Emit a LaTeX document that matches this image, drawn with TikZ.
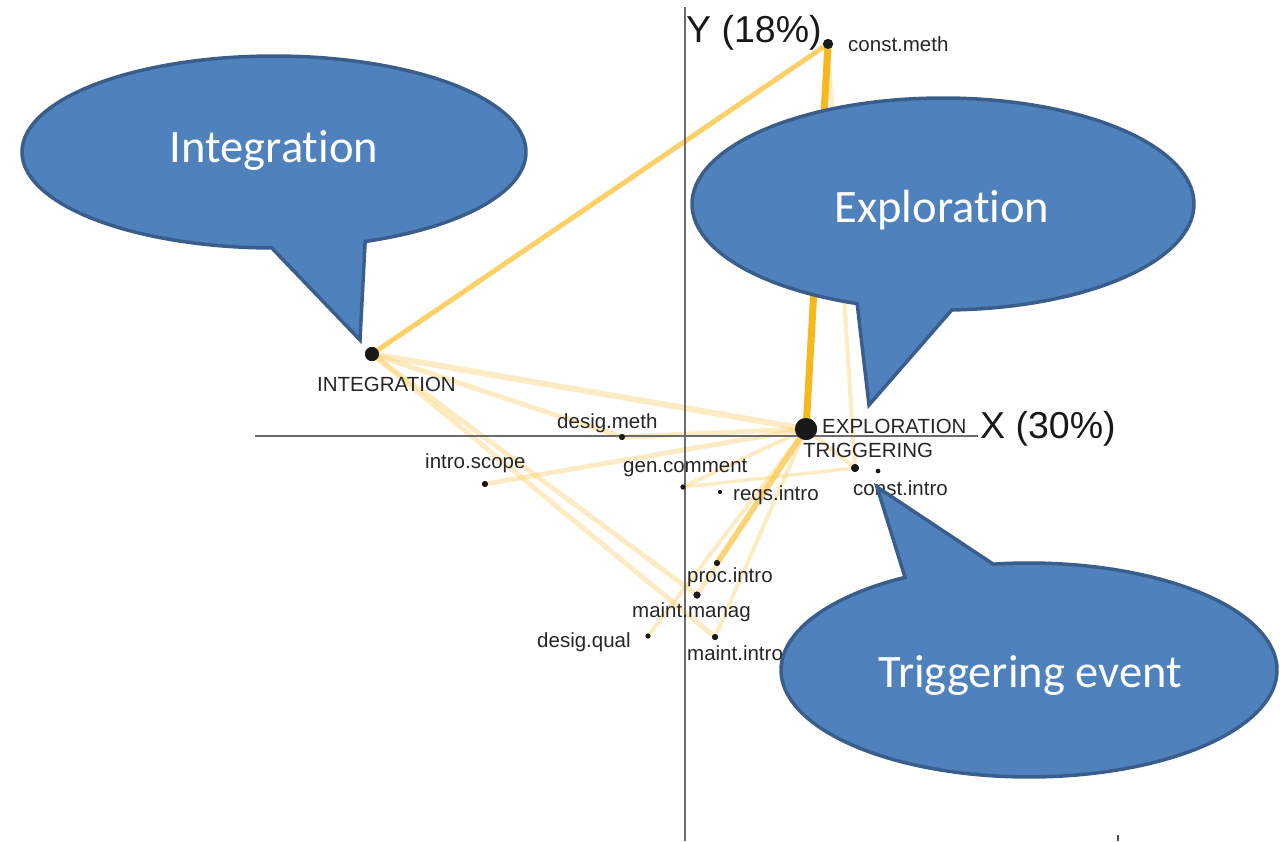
\documentclass[tikz,border=0pt]{standalone}
\usepackage{fontspec}
\setmainfont{Liberation Sans}
\newfontfamily\calibri[Ligatures=NoCommon]{Carlito}
\begin{document}
\begin{tikzpicture}[x=1pt,y=-1pt,
  dot/.style={circle,fill=black!90,inner sep=0pt,minimum size=#1},
  lbl/.style={anchor=base west,inner sep=0pt,text=black!85,font=\fontsize{20.5}{24}\selectfont},
  axlbl/.style={anchor=base west,inner sep=0pt,text=black!90,font=\fontsize{37.5}{44}\selectfont},
  axis/.style={draw=black!58,line width=2.2pt},
  bubtext/.style={anchor=base,inner sep=0pt,text=white,font=\calibri\fontsize{46.5}{56}\selectfont}
]
\definecolor{bubfill}{HTML}{4F81BD}
\definecolor{bubline}{HTML}{3A5E8C}
\definecolor{strongline}{HTML}{F8B71C}
\definecolor{midline}{HTML}{FDD168}
\definecolor{softline}{HTML}{FAC548}
\tikzset{
  heavy/.style={draw=strongline,line width=7pt,line cap=round},
  medium/.style={draw=midline,line width=5pt,line cap=round},
  faint/.style={draw=softline,line width=#1,opacity=0.33,line cap=round},
  faint/.default=5pt,
  callout/.style={fill=bubfill,draw=bubline,line width=3.5pt,line join=miter}
}
\useasboundingbox (0,0) rectangle (1280,841);

% points of the plot
\node[dot=10pt] (cmeth)  at (828,44)  {};
\node[dot=14pt] (integ)  at (372,354) {};
\node[dot=22pt] (expl)   at (806,429) {};
\node[dot=6pt]  (dmeth)  at (622,437) {};
\node[dot=6pt]  (iscope) at (485,484) {};
\node[dot=5pt]  (gcom)   at (683,487) {};
\node[dot=4pt]  (rintro) at (720,492) {};
\node[dot=8pt]  (cintro) at (855,468) {};
\node[dot=4.5pt](cintrob)at (878,471) {};
\node[dot=6pt]  (pintro) at (717,563) {};
\node[dot=7pt]  (mmanag) at (697,595) {};
\node[dot=5pt]  (dqual)  at (648,636) {};
\node[dot=6pt]  (mintro) at (715,637) {};

% links between points
\draw[faint=6pt] (integ.center) -- (expl.center);
\draw[faint] (integ.center) -- (dmeth.center);
\draw[faint] (integ.center) -- (mmanag.center);
\draw[faint] (integ.center) -- (mintro.center);
\draw[faint] (iscope.center) -- (expl.center);
\draw[faint] (dmeth.center) -- (expl.center);
\draw[faint=4pt] (gcom.center) -- (expl.center);
\draw[faint=3.5pt] (gcom.center) -- (cintro.center);
\draw[faint] (expl.center) -- (mmanag.center);
\draw[faint=4pt] (expl.center) -- (mintro.center);
\draw[faint=4pt] (expl.center) -- (dqual.center);
\draw[faint=4pt] (expl.center) -- (cintro.center);
\draw[faint=4pt] (cmeth.center) -- (cintro.center);
\draw[faint=6pt,opacity=0.6] (expl.center) -- (pintro.center);
\draw[medium] (integ.center) -- (cmeth.center);
\draw[heavy] (cmeth.center) -- (expl.center);

% axes
\coordinate (xl) at (255,436);
\coordinate (xr) at (978,436);
\coordinate (yt) at (685,7);
\coordinate (yb) at (685,841);
\coordinate (tk1) at (1118,835);
\coordinate (tk2) at (1118,841);
\draw[axis] (xl) -- (xr);
\draw[axis] (yt) -- (yb);
\draw[black!70,line width=1.5pt] (tk1) -- (tk2);

% dots drawn again above the axes
\foreach \p/\s in {cmeth/10pt,integ/14pt,expl/22pt,dmeth/6pt,iscope/6pt,gcom/5pt,rintro/4pt,cintro/8pt,cintrob/4.5pt,pintro/6pt,mmanag/7pt,dqual/5pt,mintro/6pt}
  \fill[black!90] (\p.center) circle[radius=\s/2];

% labels
\node[axlbl] (ylab) at (686,42) {Y (18\%)};
\node[axlbl] (xlab) at (980,438) {X (30\%)};
\node[lbl] (tcmeth)  at (848,51)  {const.meth};
\node[lbl] (tinteg)  at (317,391) {INTEGRATION};
\node[lbl] (texpl)   at (822,433) {EXPLORATION};
\node[lbl] (ttrig)   at (803,457) {TRIGGERING};
\node[lbl] (tdmeth)  at (557,428) {desig.meth};
\node[lbl] (tiscope) at (425,468) {intro.scope};
\node[lbl] (tgcom)   at (623,472) {gen.comment};
\node[lbl] (trintro) at (733,500) {reqs.intro};
\node[lbl] (tcintro) at (853,495) {const.intro};
\node[lbl] (tpintro) at (687,582) {proc.intro};
\node[lbl] (tmmanag) at (632,617) {maint.manag};
\node[lbl] (tdqual)  at (537,647) {desig.qual};
\node[lbl] (tmintro) at (687,660) {maint.intro};

% speech bubbles
\path[callout] plot[domain=90.5:428.8,samples=160,variable=\t] ({274+252*cos(\t)},{152+96*sin(\t)}) -- (360,340) -- cycle;
\node[bubtext] (bint) at (274,162) {Integration};

\path[callout] plot[domain=110:448,samples=160,variable=\t] ({943+251*cos(\t)},{204+106*sin(\t)}) -- (869,405) -- cycle;
\node[bubtext] (bexp) at (942,222) {Exploration};

\path[callout] plot[domain=261.7:600,samples=160,variable=\t] ({1029+248*cos(\t)},{670+107*sin(\t)}) -- (877,487) -- cycle;
\node[bubtext] (btrig) at (1030,687) {Triggering event};
\end{tikzpicture}
\end{document}
